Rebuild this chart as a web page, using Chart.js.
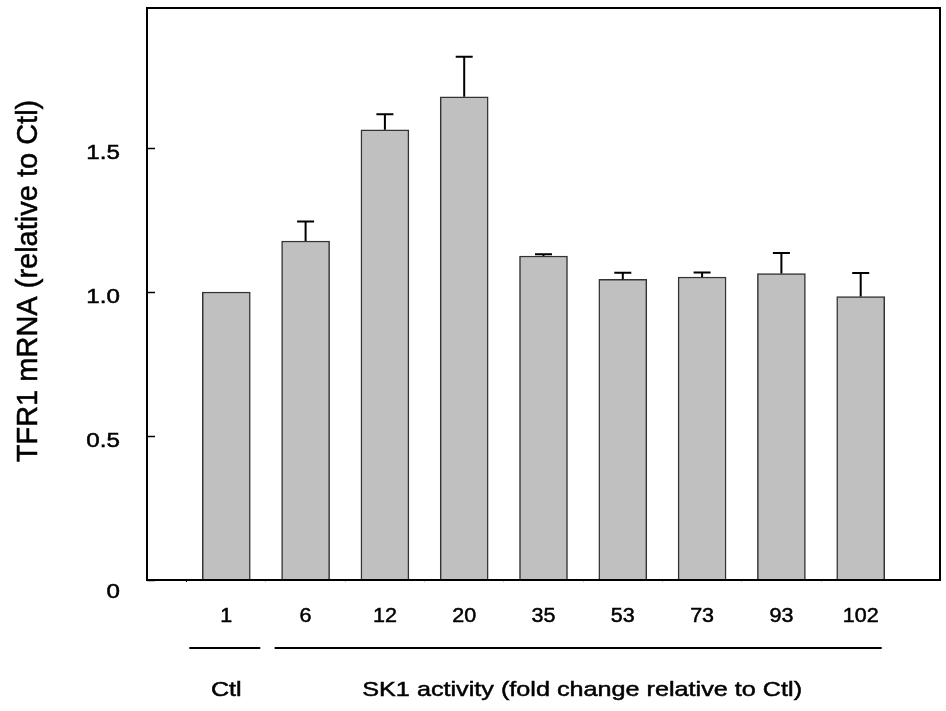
<!DOCTYPE html>
<html>
<head>
<meta charset="utf-8">
<script src="https://cdn.jsdelivr.net/npm/chart.js@4.4.1/dist/chart.umd.min.js"></script>
<style>
  html, body { margin: 0; padding: 0; background: #fff; }
  #wrap { width: 946px; height: 711px; }
</style>
</head>
<body>
<div id="wrap"><canvas id="tfr-chart" width="946" height="711"></canvas></div>
<script>
// SK1 activity (fold change) for each sample
var categories = ['1', '6', '12', '20', '35', '53', '73', '93', '102'];
// TFR1 mRNA mean, relative to Ctl
var meanValues = [1.0, 1.177, 1.563, 1.678, 1.125, 1.044, 1.052, 1.064, 0.984];
// upper error (SEM)
var errorValues = [0, 0.068, 0.054, 0.139, 0.006, 0.023, 0.016, 0.071, 0.082];
var yTickValues = [0, 0.5, 1.0, 1.5];
var yTickLabels = ['0', '0.5', '1.0', '1.5'];

var FONT = '"Liberation Sans", Arial, sans-serif';

// empty slot on each side so bars sit on whole steps of the axis
var axisLabels = [''].concat(categories, ['']);
var barData = [null].concat(meanValues, [null]);
var errData = [null].concat(errorValues, [null]);

// text a little wider and heavier than the plain font
function wideText(ctx, text, x, y, sx, align) {
    ctx.save();
    ctx.translate(x, y);
    ctx.scale(sx, 1);
    ctx.textAlign = align;
    ctx.lineWidth = 0.5;
    ctx.strokeStyle = '#000';
    ctx.fillText(text, 0, 0);
    ctx.strokeText(text, 0, 0);
    ctx.restore();
}

// frame, inward y ticks, error bars, labels and group lines
var decorPlugin = {
    id: 'decor',
    afterDatasetsDraw: function(chart) {
        var ctx = chart.ctx;
        var area = chart.chartArea;
        var x = chart.scales.x;
        var y = chart.scales.y;
        var meta = chart.getDatasetMeta(0);

        ctx.save();
        ctx.strokeStyle = '#000';
        ctx.lineWidth = 2;

        // error bars (upper only)
        meta.data.forEach(function(bar, i) {
            var err = errData[i];
            if (!err) return;
            var top = y.getPixelForValue(barData[i] + err);
            ctx.beginPath();
            ctx.moveTo(bar.x, bar.y);
            ctx.lineTo(bar.x, top);
            ctx.moveTo(bar.x - 8.5, top);
            ctx.lineTo(bar.x + 8.5, top);
            ctx.stroke();
        });

        // plot frame
        ctx.strokeRect(area.left, area.top, area.right - area.left, area.bottom - area.top);

        // y ticks pointing into the plot
        ctx.lineWidth = 1.5;
        yTickValues.forEach(function(v) {
            var py = Math.round(y.getPixelForValue(v)) + 0.5;
            ctx.beginPath();
            ctx.moveTo(area.left, py);
            ctx.lineTo(area.left + 8, py);
            ctx.stroke();
        });

        ctx.fillStyle = '#000';
        ctx.textBaseline = 'middle';

        // y tick labels
        ctx.font = '20.5px ' + FONT;
        yTickValues.forEach(function(v, i) {
            var py = y.getPixelForValue(v) + (v === 0 ? 12 : 5);
            wideText(ctx, yTickLabels[i], area.left - 27, py, 1.18, 'right');
        });

        // category labels
        categories.forEach(function(c, i) {
            wideText(ctx, c, x.getPixelForValue(i + 1), 616, 1.05, 'center');
        });

        // group lines under the category labels
        var ctlX = x.getPixelForValue(1);
        var skStart = x.getPixelForValue(2) - 31;
        var skEnd = x.getPixelForValue(categories.length) + 21;
        ctx.lineWidth = 2;
        ctx.beginPath();
        ctx.moveTo(ctlX - 37, 648);
        ctx.lineTo(ctlX + 34, 648);
        ctx.moveTo(skStart, 648);
        ctx.lineTo(skEnd, 648);
        ctx.stroke();

        ctx.font = '21px ' + FONT;
        wideText(ctx, 'Ctl', ctlX, 690, 1.2, 'center');
        wideText(ctx, 'SK1 activity (fold change relative to Ctl)', (skStart + skEnd) / 2 + 4, 690, 1.2, 'center');

        // y axis title
        ctx.translate(29, 281);
        ctx.rotate(-Math.PI / 2);
        ctx.font = '29px ' + FONT;
        wideText(ctx, 'TFR1 mRNA (relative to Ctl)', 0, 0, 1, 'center');
        ctx.restore();
    }
};

function createChart() {
    var canvas = document.getElementById('tfr-chart');
    new Chart(canvas, {
        type: 'bar',
        data: {
            labels: axisLabels,
            datasets: [{
                data: barData,
                backgroundColor: '#c0c0c0',
                borderColor: '#333',
                borderWidth: 1.5,
                barThickness: 48
            }]
        },
        options: {
            responsive: false,
            animation: false,
            layout: { padding: { top: 8, right: 6, left: 0, bottom: 0 } },
            plugins: { legend: { display: false }, tooltip: { enabled: false } },
            scales: {
                x: {
                    offset: false,
                    border: { display: false },
                    grid: {
                        drawOnChartArea: false,
                        drawTicks: true,
                        tickLength: 2,
                        color: function(c) {
                            if (c.index === 0 || c.index === axisLabels.length - 1) return 'rgba(0,0,0,0)';
                            return c.index === 1 ? '#000' : '#bbb';
                        }
                    },
                    ticks: { display: false, autoSkip: false },
                    afterFit: function(scale) { scale.height = 131; }
                },
                y: {
                    min: 0,
                    max: 1.986,
                    border: { display: false },
                    grid: { display: false, drawTicks: false },
                    ticks: { display: false },
                    afterFit: function(scale) { scale.width = 147; }
                }
            }
        },
        plugins: [decorPlugin]
    });
}

document.addEventListener('DOMContentLoaded', createChart);
</script>
</body>
</html>
